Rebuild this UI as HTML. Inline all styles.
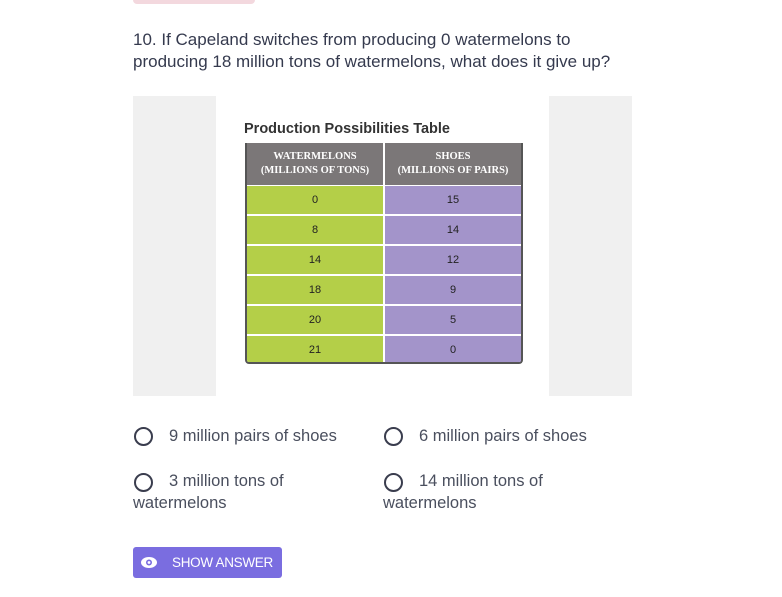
<!DOCTYPE html>
<html><head><style>
body{margin:0;width:782px;height:597px;background:#fff;position:relative;font-family:"Liberation Sans",sans-serif;overflow:hidden}
.a{position:absolute}
.q{left:133px;top:29px;font-size:17px;line-height:22px;color:#353a4e;width:495px}
.g{background:#f0f0f0;top:96px;height:300px;width:83px}
.c{position:absolute;text-align:center;font-size:11px;color:#222}
.o{font-size:16.5px;color:#4a4f5e;line-height:22px}
.r{width:15px;height:15px;border:2px solid #3a3d4e;border-radius:50%}
</style></head><body>
<div class="a" style="left:133px;top:0;width:122px;height:4px;background:#f3d8de;border-radius:0 0 4px 4px"></div>
<div class="a q">10. If Capeland switches from producing 0 watermelons to producing 18 million tons of watermelons, what does it give up?</div>
<div class="a g" style="left:133px"></div>
<div class="a g" style="left:549px"></div>
<div class="a" style="left:244px;top:121px;font-size:14.5px;font-weight:bold;color:#333">Production Possibilities Table</div>
<div class="a" style="left:245px;top:143px;width:274px;height:219px;border:2px solid #555;border-top:none;border-radius:0 0 4px 4px;overflow:hidden;background:#fff">
<div class="c" style="left:0;top:0;width:274px;height:42px;background:#7b7778"></div>
<div class="c" style="left:0;top:7px;width:136px;color:#fff;font-family:'Liberation Serif',serif;font-weight:bold;font-size:10.5px;line-height:14px">WATERMELONS<br>(MILLIONS OF TONS)</div>
<div class="c" style="left:138px;top:7px;width:136px;color:#fff;font-family:'Liberation Serif',serif;font-weight:bold;font-size:10.5px;line-height:14px">SHOES<br>(MILLIONS OF PAIRS)</div>
<div style="position:absolute;left:0;top:43px;width:274px;display:grid;grid-template-columns:136px 2px 136px;grid-auto-rows:28px;row-gap:2px;font-size:11px;color:#222;text-align:center;line-height:28px">
<div style="background:#b4cf48">0</div><div></div><div style="background:#a394ca">15</div>
<div style="background:#b4cf48">8</div><div></div><div style="background:#a394ca">14</div>
<div style="background:#b4cf48">14</div><div></div><div style="background:#a394ca">12</div>
<div style="background:#b4cf48">18</div><div></div><div style="background:#a394ca">9</div>
<div style="background:#b4cf48">20</div><div></div><div style="background:#a394ca">5</div>
<div style="background:#b4cf48">21</div><div></div><div style="background:#a394ca">0</div>
</div>
<div class="c" style="left:136px;top:0;width:2px;height:219px;background:#fff"></div>
</div>
<div class="a r" style="left:134px;top:427px"></div>
<div class="a o" style="left:169px;top:425px">9 million pairs of shoes</div>
<div class="a r" style="left:384px;top:427px"></div>
<div class="a o" style="left:419px;top:425px">6 million pairs of shoes</div>
<div class="a r" style="left:134px;top:473px"></div>
<div class="a o" style="left:133px;top:470px;width:200px;text-indent:36px">3 million tons of watermelons</div>
<div class="a r" style="left:384px;top:473px"></div>
<div class="a o" style="left:383px;top:470px;width:200px;text-indent:36px">14 million tons of watermelons</div>
<div class="a" style="left:133px;top:547px;width:149px;height:31px;background:#7a6de0;border-radius:3px"></div>
<svg class="a" style="left:140px;top:556px" width="18" height="13" viewBox="0 0 18 13"><ellipse cx="9" cy="6.5" rx="8" ry="5.5" fill="#fff"/><circle cx="9" cy="6.5" r="3" fill="#7a6de0"/><circle cx="9" cy="6.5" r="1.4" fill="#fff"/></svg>
<div class="a" style="left:172px;top:555px;font-size:13.5px;letter-spacing:-0.3px;color:#fff">SHOW ANSWER</div>
</body></html>
